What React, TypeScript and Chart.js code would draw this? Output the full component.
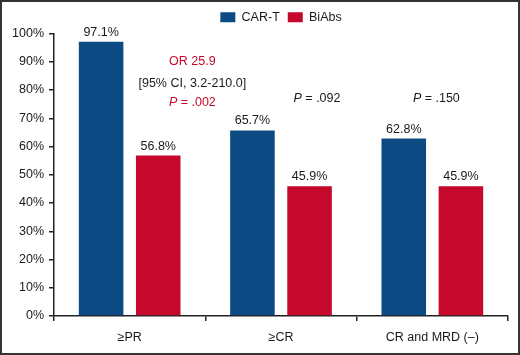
import React, { useEffect, useRef } from "react";
import { Chart, registerables } from "chart.js";

Chart.register(...registerables);

const categories = ["≥PR", "≥CR", "CR and MRD (–)"];
const carT = [97.1, 65.7, 62.8];
const biAbs = [56.8, 45.9, 45.9];
const yTicks = [0, 10, 20, 30, 40, 50, 60, 70, 80, 90, 100];
const seriesNames = ["CAR-T", "BiAbs"];
const pValues = ["", ".092", ".150"];

const BLUE = "#0c4a84";
const RED = "#c5082b";
const FONT = "'Liberation Sans', Arial, Helvetica, sans-serif";
const FS = 12.5;

const labelPlugin = {
  id: "labels",
  afterDatasetsDraw(chart: any) {
    const ctx = chart.ctx;
    const x = chart.scales.x;
    const y = chart.scales.y;
    ctx.save();
    ctx.textAlign = "center";
    ctx.textBaseline = "alphabetic";
    ctx.font = `${FS}px ${FONT}`;
    ctx.fillStyle = "#1a1a1a";
    chart.data.datasets.forEach((ds: any, di: number) => {
      const meta = chart.getDatasetMeta(di);
      meta.data.forEach((bar: any, i: number) => {
        ctx.fillText(ds.data[i].toFixed(1) + "%", bar.x, bar.y - 6);
      });
    });
    // OR annotation between first and second category
    const cx = (x.getPixelForValue(0) + x.getPixelForValue(1)) / 2 - 13;
    ctx.fillStyle = RED;
    ctx.font = `${FS}px ${FONT}`;
    ctx.fillText("OR 25.9", cx, y.getPixelForValue(88.7));
    ctx.fillStyle = "#1a1a1a";
    ctx.fillText("[95% CI, 3.2-210.0]", cx, y.getPixelForValue(80.9));
    const drawP = (text: string, px: number, py: number, color: string) => {
      ctx.fillStyle = color;
      ctx.font = `italic ${FS}px ${FONT}`;
      const pW = ctx.measureText("P").width;
      ctx.font = `${FS}px ${FONT}`;
      const rest = " = " + text;
      const rW = ctx.measureText(rest).width;
      const start = px - (pW + rW) / 2;
      ctx.textAlign = "left";
      ctx.font = `italic ${FS}px ${FONT}`;
      ctx.fillText("P", start, py);
      ctx.font = `${FS}px ${FONT}`;
      ctx.fillText(rest, start + pW, py);
      ctx.textAlign = "center";
    };
    drawP(".002", cx, y.getPixelForValue(74.2), RED);
    const offsets = [0, 36, 4];
    for (let i = 1; i < categories.length; i++) {
      if (pValues[i]) {
        drawP(pValues[i], x.getPixelForValue(i) + offsets[i], y.getPixelForValue(75.6), "#1a1a1a");
      }
    }
    ctx.restore();
  },
};

export default function App() {
  const ref = useRef<HTMLCanvasElement>(null);
  useEffect(() => {
    const chart = new Chart(ref.current!, {
      type: "bar",
      data: {
        labels: categories,
        datasets: [
          { label: seriesNames[0], data: carT, backgroundColor: BLUE },
          { label: seriesNames[1], data: biAbs, backgroundColor: RED },
        ],
      },
      options: {
        animation: false,
        responsive: false,
        maintainAspectRatio: false,
        layout: { padding: { top: 1, right: 10, bottom: 2, left: 0 } },
        datasets: {
          bar: { categoryPercentage: 0.755, barPercentage: 0.78 },
        },
        plugins: {
          legend: {
            position: "top",
            fullSize: false,
            labels: {
              boxWidth: 15,
              boxHeight: 10,
              font: { family: FONT, size: FS },
              color: "#1a1a1a",
              padding: 8,
            },
          },
          tooltip: { enabled: false },
        },
        scales: {
          x: {
            offset: true,
            afterFit: (s: any) => {
              s.height = 35;
            },
            grid: {
              offset: true,
              drawOnChartArea: false,
              tickLength: 5,
              color: "#222",
              lineWidth: 1.5,
            },
            border: { color: "#222", width: 1.5 },
            ticks: { font: { family: FONT, size: FS }, color: "#1a1a1a", padding: 9 },
          },
          y: {
            min: 0,
            max: 100,
            afterBuildTicks: (s: any) => {
              s.ticks = yTicks.map((v) => ({ value: v }));
            },
            afterFit: (s: any) => {
              s.width = 52;
            },
            grid: {
              drawOnChartArea: false,
              tickLength: 5,
              color: "#222",
              lineWidth: 1.5,
            },
            border: { color: "#222", width: 1.5 },
            ticks: {
              font: { family: FONT, size: FS },
              color: "#1a1a1a",
              padding: 5,
              callback: (v: any) => v + "%",
            },
          },
        },
      },
      plugins: [labelPlugin],
    });
    return () => chart.destroy();
  }, []);
  return (
    <div
      style={{
        position: "absolute",
        left: 0,
        top: 0,
        width: 520,
        height: 355,
        boxSizing: "border-box",
        border: "2px solid #333",
        background: "#fff",
      }}
    >
      <canvas ref={ref} width={516} height={351} style={{ display: "block" }} />
    </div>
  );
}
